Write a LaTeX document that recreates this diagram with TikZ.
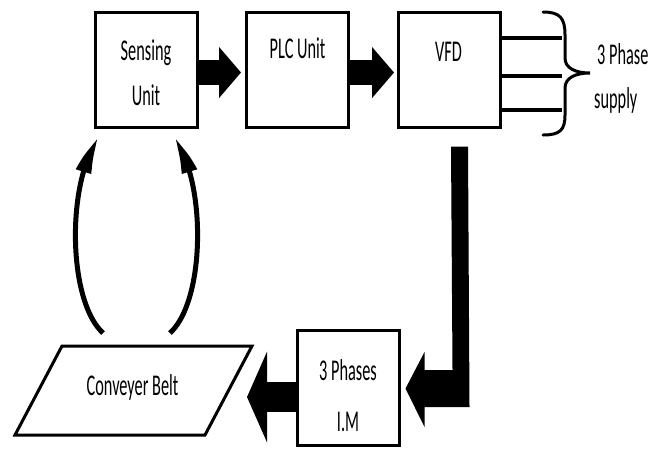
\documentclass[tikz,border=0pt]{standalone}
\usepackage{fontspec}
\setmainfont{Carlito}
\usetikzlibrary{arrows.meta,bending,calc}
\newcommand{\stx}[1]{\scalebox{1}[1.85]{#1}}
\begin{document}
\begin{tikzpicture}[x=1pt,y=-1pt,
  box/.style={draw,line width=3pt,minimum width=102pt,minimum height=115pt,inner sep=0pt},
  lbl/.style={anchor=base,inner sep=0pt,font=\fontsize{16.3}{18}\selectfont},
  lbll/.style={anchor=base west,inner sep=0pt,font=\fontsize{16.3}{18}\selectfont},
  blkh/.style={line width=25pt,-{Triangle[length=22pt,width=50pt]}},
  blki/.style={line width=30pt,-{Triangle[length=20pt,width=90pt]}},
  curv/.style={line width=5pt,-{Triangle[length=32pt,width=15pt,bend]}},
  phase/.style={line width=4.5pt},
  solid/.style={fill=black,draw=none}]
\useasboundingbox (0,0) rectangle (660,448);
% boxes
\node[box] (sense) at (146,69.5) {};
\node[box] (plc) at (297.5,69.5) {};
\node[box] (vfd) at (449.5,69.5) {};
\node[box] (im) at (348,387.5) {};
% belt parallelogram
\coordinate (b1) at (62,346);
\coordinate (b2) at (252,346);
\coordinate (b3) at (205,435);
\coordinate (b4) at (15,435);
\draw[line width=3pt,line join=miter] (b1) -- (b2) -- (b3) -- (b4) -- cycle;
\node[lbl] (belt) at (132.5,395) {\stx{Conveyer Belt}};
% labels
\node[lbl] (t1) at ($(sense.north)+(0,50)$) {\stx{Sensing}};
\node[lbl] (t2) at ($(sense.north)+(0,95)$) {\stx{Unit}};
\node[lbl] (t3) at ($(plc.north)+(0,48)$) {\stx{PLC Unit}};
\node[lbl] (t4) at ($(vfd.north)+(-1,51)$) {\stx{VFD}};
\node[lbl] (t5) at ($(im.north)+(0,52)$) {\stx{3 Phases}};
\node[lbl] (t6) at ($(im.north)+(0,103)$) {\stx{I.M}};
\node[lbll] (t7) at (597,64) {\stx{3 Phase}};
\node[lbll] (t8) at (594,108) {\stx{supply}};
% block arrows
\draw[blkh] ($(sense.east)+(0,3)$) -- ($(plc.west)+(-4,3)$);
\draw[blkh] ($(plc.east)+(0,3)$) -- ($(vfd.west)+(-3,3)$);
\coordinate (beltR) at (247,397);
\draw[blki] ($(im.west)+(0,9.5)$) -- (beltR);
% L-shaped arrow from VFD to IM
\fill ($(vfd.south)+(1.5,18)$) -- ($(vfd.south)+(18.5,18)$) -- ($(im.east)+(69,19.5)$)
  -- ($(im.east)+(24,19.5)$) -- ($(im.east)+(24,39.5)$) -- ($(im.east)+(5,1)$)
  -- ($(im.east)+(24,-35.5)$) -- ($(im.east)+(24,-17.5)$) -- ($(im.east)+(52,-17.5)$) -- cycle;
% three phase lines
\coordinate (p1) at (562,38);
\coordinate (p2) at (562,76);
\coordinate (p3) at (562,110);
\draw[phase] (vfd.east |- p1) -- (p1);
\draw[phase] (vfd.east |- p2) -- (p2);
\draw[phase] (vfd.east |- p3) -- (p3);
% brace
\draw[line width=3pt,line cap=round] (543,12) .. controls (560,12) and (565,18) .. (565,35) -- (565,58)
  .. controls (565,68) and (575,73) .. (590,73) .. controls (575,73) and (565,78) .. (565,88)
  -- (565,115) .. controls (565,130) and (560,135) .. (543,135);
% curved arrows from belt to sensing unit
\draw[curv] ($(b1)+(41,-13)$) .. controls (67,300) and (67,180) .. ($(sense.south west)+(5,11)$);
\draw[curv] ($(b1)+(108,-13)$) .. controls (206,300) and (206,180) .. ($(sense.south east)+(-24,11)$);
\end{tikzpicture}
\end{document}
